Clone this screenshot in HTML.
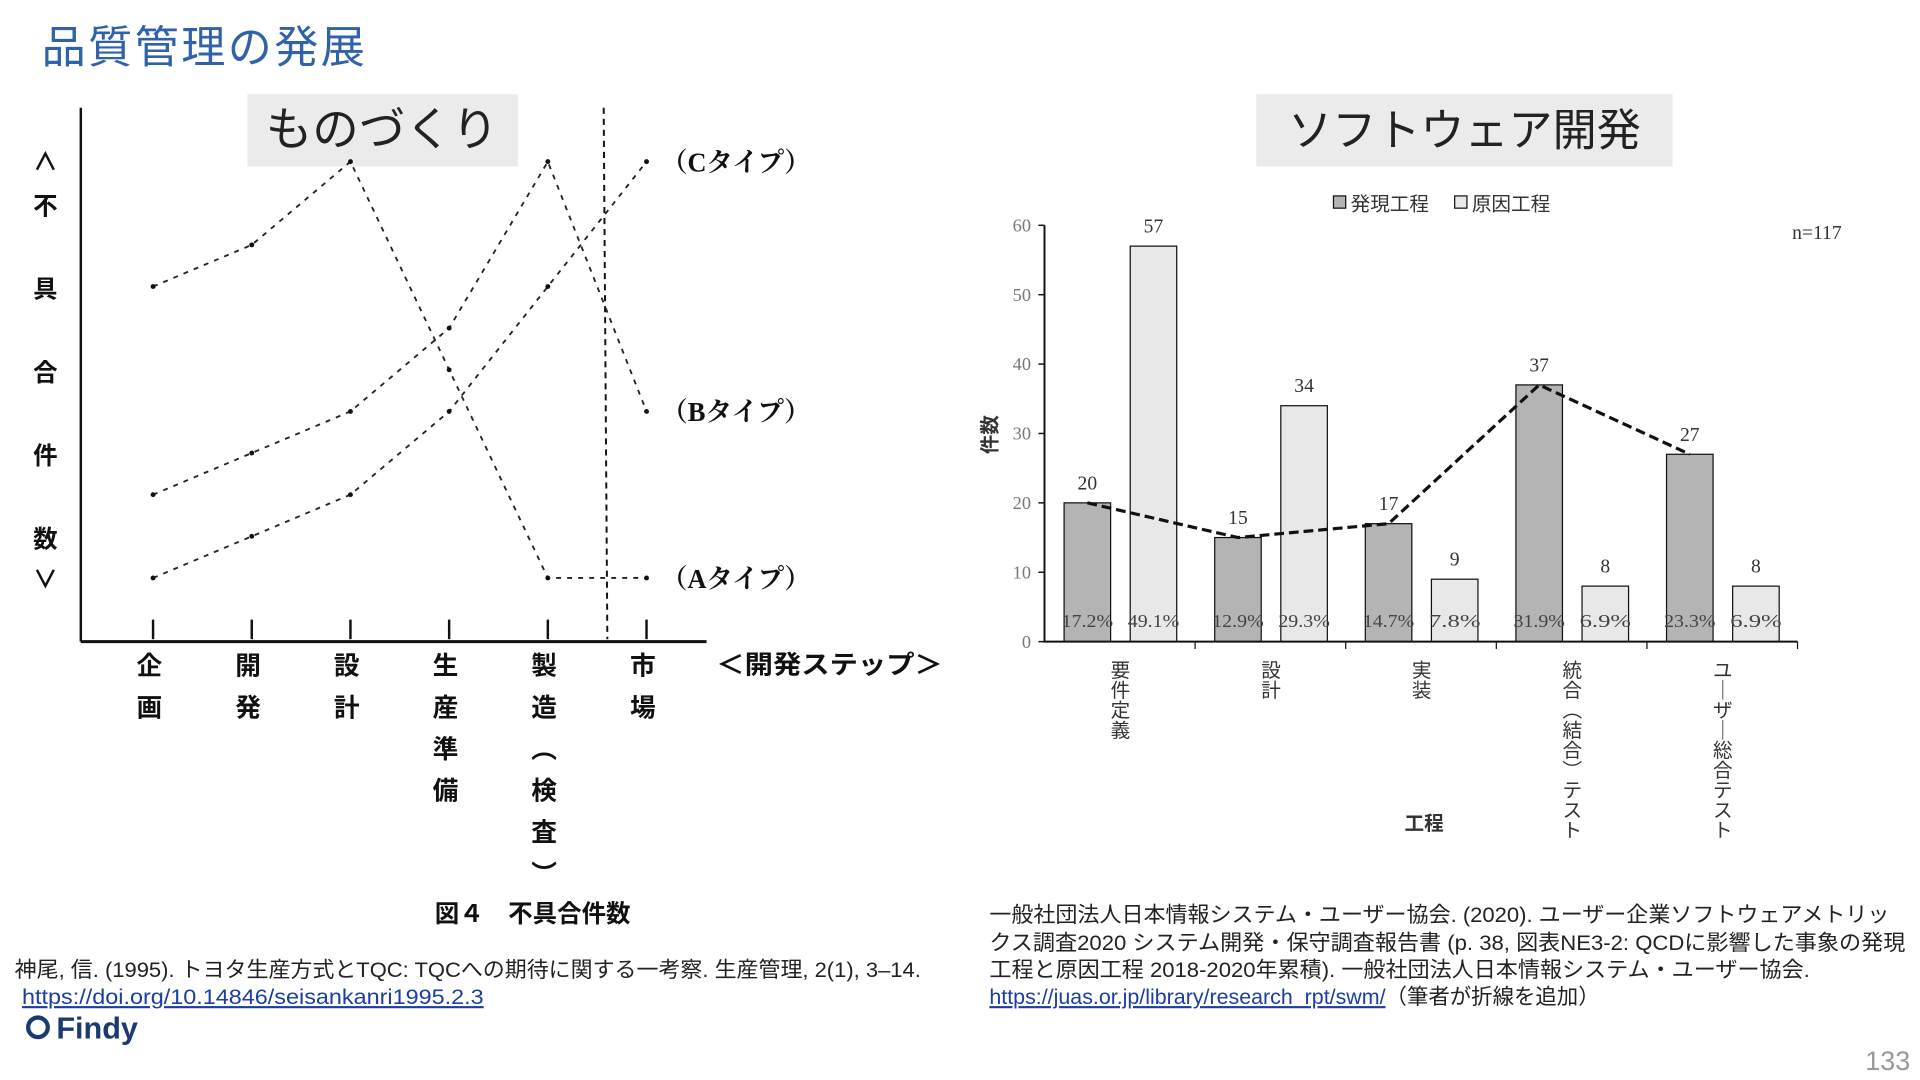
<!DOCTYPE html>
<html><head><meta charset="utf-8"><style>
html,body{margin:0;padding:0;background:#fff;}
svg{display:block;}
.jp{font-family:"Liberation Sans","Noto Sans CJK JP",sans-serif;}
.sr{font-family:"Liberation Serif","Noto Serif CJK SC",serif;}
</style></head><body>
<svg id="s" width="1920" height="1080" viewBox="0 0 1568 882" xmlns="http://www.w3.org/2000/svg">
<text x="34" y="51" class="jp" font-size="36" letter-spacing="2" fill="#2f62a8">品質管理の発展</text>

<g id="left">
<rect x="202" y="77" width="221" height="59" fill="#ebebeb"/>
<text x="312" y="119" text-anchor="middle" class="jp" font-size="38" fill="#222">ものづくり</text>
<line x1="66" y1="88" x2="66" y2="524" stroke="#111" stroke-width="2"/>
<line x1="66" y1="524" x2="577" y2="524" stroke="#111" stroke-width="2.5"/>
<line x1="493" y1="88" x2="496" y2="522" stroke="#111" stroke-width="1.6" stroke-dasharray="5,4"/>
<g id="lg"></g>
</g>

<g id="right">
<rect x="1026" y="77" width="340" height="59" fill="#ebebeb"/>
<text x="1196" y="119" text-anchor="middle" class="jp" font-size="36" fill="#222">ソフトウェア開発</text>
<g id="rg"></g>
</g>

<g class="jp" font-size="17.5" fill="#222">
<text x="12" y="798" textLength="740" lengthAdjust="spacingAndGlyphs">神尾, 信. (1995). トヨタ生産方式とTQC: TQCへの期待に関する一考察. 生産管理, 2(1), 3–14.</text>
<text x="18" y="820" textLength="377" lengthAdjust="spacingAndGlyphs" fill="#1a3fa0" text-decoration="underline">https://doi.org/10.14846/seisankanri1995.2.3</text>
<text x="808" y="753" textLength="735" lengthAdjust="spacingAndGlyphs">一般社団法人日本情報システム・ユーザー協会. (2020). ユーザー企業ソフトウェアメトリッ</text>
<text x="808" y="776" textLength="748" lengthAdjust="spacingAndGlyphs">クス調査2020 システム開発・保守調査報告書 (p. 38, 図表NE3-2: QCDに影響した事象の発現</text>
<text x="808" y="798" textLength="670" lengthAdjust="spacingAndGlyphs">工程と原因工程 2018-2020年累積). 一般社団法人日本情報システム・ユーザー協会.</text>
<text x="808" y="820"><tspan fill="#1a3fa0" text-decoration="underline">https://juas.or.jp/library/research_rpt/swm/</tspan>（筆者が折線を追加）</text>
</g>
<g>
<circle cx="31" cy="839" r="8" fill="none" stroke="#1a3a70" stroke-width="3.5"/>
<text x="46" y="848" class="jp" font-size="25" font-weight="bold" fill="#1a3a70">Findy</text>
</g>
<text x="1560" y="874" text-anchor="end" class="jp" font-size="22" fill="#999">133</text>
</svg>
<script>
const NS='http://www.w3.org/2000/svg';
// Left chart data (defect count relative level, 0=low 10=high)
const steps=['企画','開発','設計','生産準備','製造（検査）','市場'];
const typeA=[7.5,8.5,10.5,5.5,0.5,0.5];
const typeB=[2.5,3.5,4.5,6.5,10.5,4.5];
const typeC=[0.5,1.5,2.5,4.5,7.5,10.5];
const typeNames=['（Aタイプ）','（Bタイプ）','（Cタイプ）'];
// Right chart data
const phases=['要件定義','設計','実装','統合（結合）テスト','ユーザー総合テスト'];
const found=[20,15,17,37,27];
const cause=[57,34,9,8,8];
const foundPct=['17.2%','12.9%','14.7%','31.9%','23.3%'];
const causePct=['49.1%','29.3%','7.8%','6.9%','6.9%'];
const yTicks=[0,10,20,30,40,50,60];

function mk(tag,attrs,parent,text){const e=document.createElementNS(NS,tag);for(const k in attrs)e.setAttribute(k,attrs[k]);if(text!==undefined)e.textContent=text;parent.appendChild(e);return e;}

// ---- left chart
const lg=document.getElementById('lg');
const lx=i=>125+i*80.6;
const ly=v=>489-v*34;
steps.forEach((s,i)=>{
  const t=mk('line',{x1:lx(i),y1:506,x2:lx(i),y2:522,stroke:'#111','stroke-width':2},lg);
  
  
  const chars=[...s].map(c=>c==='（'?'︵':c==='）'?'︶':c);
  chars.forEach((c,j)=>{
    const tx=mk('text',{x:lx(i)-3,y:551+j*34,'text-anchor':'middle','font-size':21,'font-weight':'bold',class:'jp',fill:'#111'},lg,c);
    
    
  });
});
const sx=mk('text',{x:585,y:550,'font-size':21,'font-weight':'bold',class:'jp',fill:'#111',textLength:185,lengthAdjust:'spacingAndGlyphs'},lg,'＜開発ステップ＞');


const ylab=[['∧',131],['不',167],['具',235],['合',303],['件',371],['数',439],['∨',472]];
ylab.forEach(([c,y])=>{
  const t=mk('text',{x:37,y:y+8,'text-anchor':'middle','font-size':20,'font-weight':'bold',class:'jp',fill:'#111'},lg,c);
  
  
});
[typeA,typeB,typeC].forEach((ser,k)=>{
  const p=mk('polyline',{points:ser.map((v,i)=>lx(i)+','+ly(v)).join(' '),fill:'none',stroke:'#222','stroke-width':1.5,'stroke-dasharray':'4,5'},lg);
  
  
  ser.forEach((v,i)=>{
    const d=mk('circle',{cx:lx(i),cy:ly(v),r:2,fill:'#111'},lg);
    
    
  });
  const lb=mk('text',{x:540,y:ly(ser[ser.length-1])+8,'font-size':22,'font-weight':'bold',class:'sr',fill:'#111',textLength:122,lengthAdjust:'spacingAndGlyphs'},lg,typeNames[k]);
  
  
});
const cap=mk('text',{x:435,y:753,'text-anchor':'middle','font-size':20,'font-weight':'bold',class:'jp',fill:'#111'},lg,'図４　不具合件数');



// ---- right chart
const rg=document.getElementById('rg');
const X0=853,X1=1468,Y0=524,Y1=184,ymax=60;
const gw=(X1-X0)/phases.length;
const ry=v=>Y0-(v/ymax)*(Y0-Y1);
const gx=i=>X0+i*gw;
const bw=38;
yTicks.forEach(v=>{
  const t=mk('text',{x:X0-11,y:ry(v)+5,'text-anchor':'end','font-size':15,class:'sr',fill:'#777'},rg,String(v));
  
  
  const tk=mk('line',{x1:X0-5,y1:ry(v),x2:X0,y2:ry(v),stroke:'#111','stroke-width':1.2},rg);
  
  
});
phases.forEach((p,i)=>{
  const g0=gx(i);
  const b1=mk('rect',{x:g0+16,y:ry(found[i]),width:bw,height:Y0-ry(found[i]),fill:'#b4b4b4',stroke:'#111','stroke-width':1},rg);
  
  
  const b2=mk('rect',{x:g0+70,y:ry(cause[i]),width:bw,height:Y0-ry(cause[i]),fill:'#e8e8e8',stroke:'#111','stroke-width':1},rg);
  
  
  [[found[i],g0+35],[cause[i],g0+89]].forEach(([v,cx])=>{
    const t=mk('text',{x:cx,y:ry(v)-11,'text-anchor':'middle','font-size':16,class:'sr',fill:'#333'},rg,String(v));
    
    
  });
  [[foundPct[i],g0+35],[causePct[i],g0+89]].forEach(([v,cx])=>{
    const t=mk('text',{x:cx,y:512,'text-anchor':'middle','font-size':15,class:'sr',fill:'#444',textLength:42,lengthAdjust:'spacingAndGlyphs'},rg,v);
    
    
  });
  const sep=mk('line',{x1:gx(i+1),y1:Y0,x2:gx(i+1),y2:Y0+6,stroke:'#111','stroke-width':1},rg);
  
  
  [...p].map(c=>c==='（'?'︵':c==='）'?'︶':c==='ー'?'｜':c).forEach((c,j)=>{
    const t=mk('text',{x:g0+62,y:553+j*16.3,'text-anchor':'middle','font-size':16,class:'jp',fill:'#333'},rg,c);
    
    
  });
});
const ax=mk('path',{d:`M${X0},${Y1} V${Y0} H${X1}`,fill:'none',stroke:'#111','stroke-width':1.6},rg);


const trend=mk('polyline',{points:found.map((v,i)=>(gx(i)+35)+','+ry(v)).join(' '),fill:'none',stroke:'#111','stroke-width':2.6,'stroke-dasharray':'8,4'},rg);


const lgd=mk('g',{},rg);


mk('rect',{x:1089,y:160,width:10,height:10,fill:'#b4b4b4',stroke:'#111'},lgd);
mk('text',{x:1103,y:172,'font-size':16,class:'jp',fill:'#333'},lgd,'発現工程');
mk('rect',{x:1188,y:160,width:10,height:10,fill:'#e8e8e8',stroke:'#111'},lgd);
mk('text',{x:1202,y:172,'font-size':16,class:'jp',fill:'#333'},lgd,'原因工程');
const n=mk('text',{x:1504,y:195,'text-anchor':'end','font-size':16,class:'sr',fill:'#333'},rg,'n=117');


const yt=mk('text',{x:0,y:0,'font-size':16,class:'jp','font-weight':'bold',fill:'#333','text-anchor':'middle',transform:'translate(814,355) rotate(-90)'},rg,'件数');


const xt=mk('text',{x:1163,y:678,'text-anchor':'middle','font-size':16,'font-weight':'bold',class:'jp',fill:'#333'},rg,'工程');


</script>
</body></html>
